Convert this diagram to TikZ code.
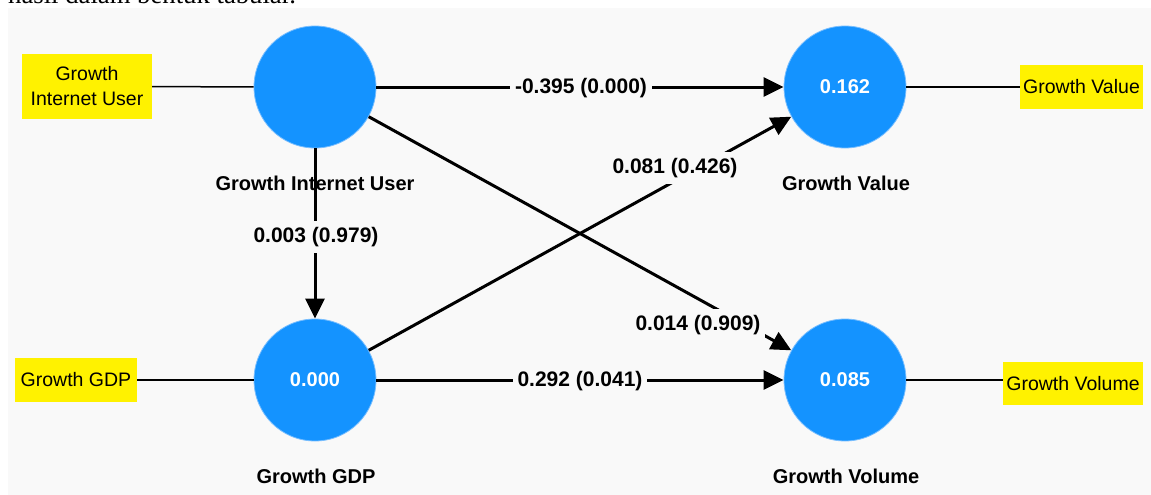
\documentclass[tikz,border=0pt]{standalone}
\usepackage{fontspec}
\setmainfont{Liberation Sans}
\newfontfamily\serifx{Liberation Serif}
\usetikzlibrary{arrows.meta}
\definecolor{bgc}{HTML}{F9F9F9}
\definecolor{lvblue}{RGB}{20,147,255}
\definecolor{lvedge}{RGB}{120,190,255}
\begin{document}
\begin{tikzpicture}[x=1pt,y=-1pt,
  lv/.style={circle, fill=lvblue, draw=lvedge, line width=0.8pt, minimum size=122pt, inner sep=0pt, text=white, font=\fontsize{20}{24}\selectfont\bfseries},
  ind/.style={fill=yellow, inner sep=0pt, minimum height=44pt, align=center, font=\fontsize{19.5}{25}\selectfont},
  lvname/.style={inner sep=0pt, font=\fontsize{20}{24}\selectfont\bfseries},
  pathline/.style={line width=3pt, -{Triangle[length=20pt,width=19pt]}},
  coef/.style={fill=bgc, inner xsep=5pt, inner ysep=6pt, font=\fontsize{21}{24}\selectfont\bfseries},
  lnk/.style={line width=1.5pt}]
\clip (0,0) rectangle (1151,495);
\useasboundingbox (0,0) rectangle (1151,495);
\fill[white] (0,0) rectangle (1151,495);
\fill[bgc] (8,8) rectangle (1151,495);
\node[anchor=base west, inner sep=0pt, font=\serifx\fontsize{26.7}{30}\selectfont] (top) at (8,3.5) {hasil dalam bentuk tabular.};

% latent variables
\node[lv] (giu) at (315,87) {};
\node[lv] (gv) at (845,87) {0.162};
\node[lv] (gdp) at (315,380) {0.000};
\node[lv] (gvol) at (845,380) {0.085};

% indicators
\node[ind, minimum width=130pt, minimum height=65pt] (giui) at (87,86.5) {Growth\\Internet User};
\node[ind, minimum width=123pt] (gvi) at (1081.5,87) {Growth Value};
\node[ind, minimum width=122pt] (gdpi) at (76,380) {Growth GDP};
\node[ind, minimum width=140pt, minimum height=43pt] (gvoli) at (1073,383.5) {Growth Volume};

\draw[lnk] (giui) -- (giu);
\draw[lnk] (gv) -- (gvi);
\draw[lnk] (gdpi) -- (gdp);
\draw[lnk] (gvol.east) -- (gvoli.west |- gvol.east);

% structural paths
\draw[pathline] (giu) -- (gv);
\draw[pathline] (gdp) -- (gvol);
\draw[pathline] (giu) -- (gdp);
\draw[pathline] (gdp) -- (gv);
\draw[pathline] (giu) -- (gvol);

% coefficients
\node[coef] (c1) at (581,88) {-0.395 (0.000)};
\node[coef] (c2) at (580,381) {0.292 (0.041)};
\node[coef] (c3) at (316,237) {0.003 (0.979)};
\node[coef] (c4) at (675,168) {0.081 (0.426)};
\node[coef] (c5) at (698,325) {0.014 (0.909)};

% names
\node[lvname] (giun) at (315,183) {Growth Internet User};
\node[lvname] (gvn) at (846,183) {Growth Value};
\node[lvname] (gdpn) at (316,476) {Growth GDP};
\node[lvname] (gvoln) at (846,476) {Growth Volume};
\end{tikzpicture}
\end{document}
